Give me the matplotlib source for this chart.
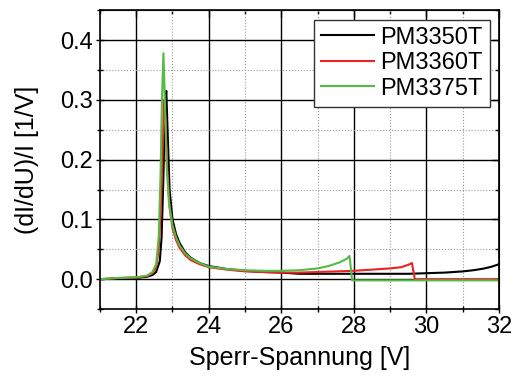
import numpy as np
import matplotlib.pyplot as plt
from matplotlib.ticker import MultipleLocator

plt.rcParams['font.family'] = ['Liberation Sans', 'DejaVu Sans']

# PM3350T (black)
u_350 = [21.0, 21.5, 22.0, 22.3, 22.45, 22.55, 22.65, 22.7, 22.75, 22.8, 22.83,
         22.87, 22.92, 23.0, 23.1, 23.2, 23.35, 23.5, 23.75, 24.0, 24.5, 25.0,
         25.5, 26.0, 26.5, 27.0, 27.5, 28.0, 28.5, 29.0, 29.5, 30.0, 30.5,
         31.0, 31.3, 31.6, 31.8, 32.0]
s_350 = [0.0, 0.001, 0.002, 0.004, 0.007, 0.012, 0.03, 0.07, 0.17, 0.30, 0.315,
         0.24, 0.15, 0.10, 0.075, 0.06, 0.045, 0.036, 0.027, 0.022, 0.017, 0.014,
         0.012, 0.011, 0.009, 0.009, 0.009, 0.009, 0.009, 0.009, 0.009, 0.010, 0.011,
         0.013, 0.015, 0.018, 0.021, 0.025]

# PM3360T (red)
u_360 = [21.0, 21.5, 22.0, 22.3, 22.45, 22.55, 22.62, 22.68, 22.73, 22.77, 22.81,
         22.86, 22.92, 23.0, 23.1, 23.2, 23.35, 23.5, 23.75, 24.0, 24.5, 25.0,
         25.5, 26.0, 26.5, 27.0, 27.5, 28.0, 28.5, 29.0, 29.3, 29.5, 29.6,
         29.68, 30.0, 31.0, 32.0]
s_360 = [0.0, 0.002, 0.003, 0.005, 0.01, 0.02, 0.05, 0.12, 0.22, 0.30, 0.26,
         0.18, 0.12, 0.085, 0.065, 0.052, 0.04, 0.032, 0.025, 0.02, 0.016, 0.013,
         0.012, 0.011, 0.011, 0.012, 0.013, 0.014, 0.016, 0.018, 0.02, 0.024, 0.027,
         0.0, 0.0, 0.0, 0.0]

# PM3375T (green)
u_375 = [21.0, 21.5, 22.0, 22.3, 22.45, 22.55, 22.62, 22.67, 22.71, 22.75, 22.79,
         22.84, 22.9, 23.0, 23.1, 23.2, 23.35, 23.5, 23.75, 24.0, 24.5, 25.0,
         25.5, 26.0, 26.5, 27.0, 27.3, 27.6, 27.8, 27.88, 27.95, 28.5, 29.0,
         30.0, 31.0, 32.0]
s_375 = [0.0, 0.002, 0.003, 0.006, 0.012, 0.025, 0.07, 0.17, 0.30, 0.378, 0.30,
         0.19, 0.13, 0.09, 0.07, 0.056, 0.043, 0.035, 0.027, 0.021, 0.017, 0.015,
         0.014, 0.014, 0.015, 0.018, 0.022, 0.028, 0.034, 0.039, -0.002, -0.002, -0.002,
         -0.002, -0.002, -0.002]

fig = plt.figure(figsize=(5.15, 3.76), dpi=100)
ax = fig.add_axes([0.194, 0.178, 0.775, 0.795])

ax.plot(u_350, s_350, color='black', lw=1.5, label='PM3350T')
ax.plot(u_360, s_360, color='#ee2222', lw=1.5, label='PM3360T')
ax.plot(u_375, s_375, color='#55bb44', lw=1.5, label='PM3375T')

ax.set_xlim(21, 32)
ax.set_ylim(-0.05, 0.45)
ax.xaxis.set_major_locator(MultipleLocator(2))
ax.xaxis.set_minor_locator(MultipleLocator(1))
ax.yaxis.set_major_locator(MultipleLocator(0.1))
ax.yaxis.set_minor_locator(MultipleLocator(0.05))
ax.set_yticks([0.0, 0.1, 0.2, 0.3, 0.4])
ax.set_yticklabels(['0.0', '0.1', '0.2', '0.3', '0.4'])

ax.grid(which='major', color='black', lw=1.0, ls='-')
ax.grid(which='minor', color='#999999', lw=0.8, ls=':')
ax.set_axisbelow(True)

ax.tick_params(which='both', direction='inout', labelsize=17, width=1.0)
ax.tick_params(which='major', length=6, pad=2)
ax.tick_params(which='minor', length=4)
for sp in ax.spines.values():
    sp.set_linewidth(1.2)

# inward ticks on top and right
top = ax.secondary_xaxis('top')
top.xaxis.set_major_locator(MultipleLocator(2))
top.xaxis.set_minor_locator(MultipleLocator(1))
top.tick_params(which='both', direction='in', labeltop=False, width=1.0)
top.tick_params(which='major', length=5)
top.tick_params(which='minor', length=3)
right = ax.secondary_yaxis('right')
right.yaxis.set_major_locator(MultipleLocator(0.1))
right.yaxis.set_minor_locator(MultipleLocator(0.05))
right.tick_params(which='both', direction='in', labelright=False, width=1.0)
right.tick_params(which='major', length=5)
right.tick_params(which='minor', length=3)

ax.set_xlabel('Sperr-Spannung [V]', fontsize=18, labelpad=6)
ax.set_ylabel('(dI/dU)/I [1/V]', fontsize=18, labelpad=15)

leg = ax.legend(loc='upper right', fontsize=17, fancybox=False, framealpha=1,
                edgecolor='#333333', handlelength=2.25, borderaxespad=0.4,
                handletextpad=0.25, labelspacing=0.15, borderpad=0.3)
leg.get_frame().set_linewidth(1.0)

fig.savefig('out.png', dpi=100)
